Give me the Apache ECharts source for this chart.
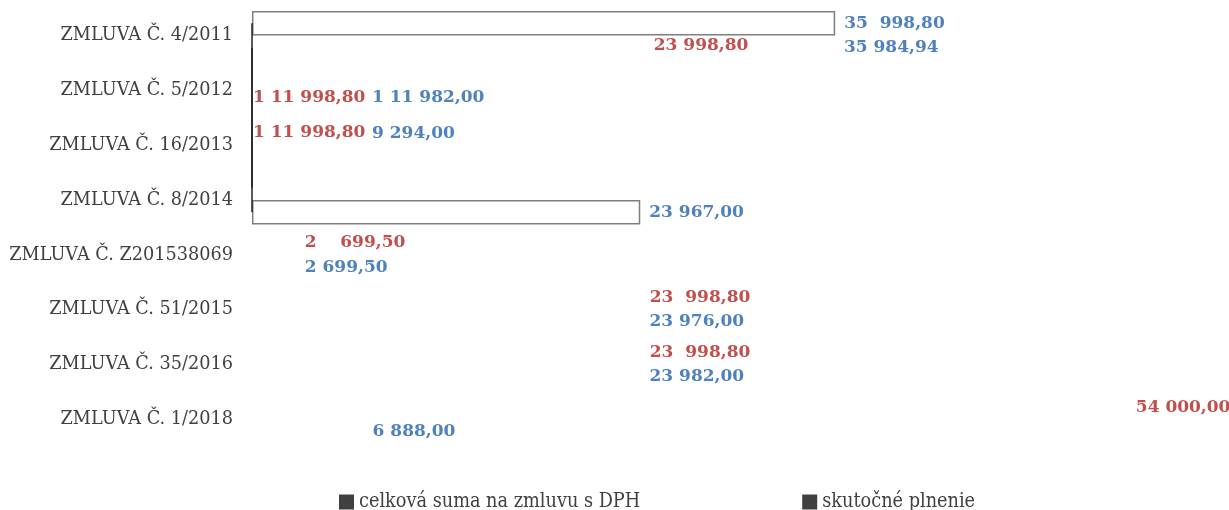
<!DOCTYPE html>
<html>
<head>
<meta charset="utf-8">
<script src="https://cdn.jsdelivr.net/npm/echarts@6/dist/echarts.min.js"></script>
<style>
html,body{margin:0;padding:0;background:#fff;}
#c{width:1229px;height:510px;}
</style>
</head>
<body>
<div id="c"></div>
<script>
const categories = ['ZMLUVA Č. 4/2011','ZMLUVA Č. 5/2012','ZMLUVA Č. 16/2013','ZMLUVA Č. 8/2014','ZMLUVA Č. Z201538069','ZMLUVA Č. 51/2015','ZMLUVA Č. 35/2016','ZMLUVA Č. 1/2018'];
const seriesNames = ['celková suma na zmluvu s DPH', 'skutočné plnenie'];
const totalValues = [35998.80, 111998.80, 111998.80, 23998.80, 2699.50, 23998.80, 23998.80, 54000.00];
const actualValues = [35984.94, 111982.00, 9294.00, 23967.00, 2699.50, 23976.00, 23982.00, 6888.00];
const totalLabels = ['35  998,80','1 11 998,80','1 11 998,80','23 998,80','2    699,50','23  998,80','23  998,80','54 000,00'];
const actualLabels = ['35 984,94','1 11 982,00','9 294,00','23 967,00','2 699,50','23 976,00','23 982,00','6 888,00'];

const RED = '#C0504D', BLUE = '#4F81BD', TXT = '#404040', FRAME = '#7f7f7f';
const SERIF = '"DejaVu Serif", serif';
const SERIF_COND = '"DejaVu Serif Condensed", "DejaVu Serif", serif';

const labelBase = { show: true, position: 'right', distance: 9, fontFamily: SERIF, fontWeight: 'bold', fontSize: 17 };

// per-item label / border styling (appearance only)
const totalStyle = {
  0: { label: { color: BLUE }, itemStyle: { borderColor: FRAME, borderWidth: 1.5 } },
  1: { label: { position: 'insideLeft', distance: 1, offset: [0, 20] } },
  2: { label: { position: 'insideLeft', distance: 1, offset: [0, 0] } },
  3: { label: { offset: [4, -142] } }
};
const actualStyle = {
  1: { label: { position: 'insideLeft', distance: 120, offset: [0, -5] } },
  2: { label: { position: 'insideLeft', distance: 120, offset: [0, -24] } },
  3: { itemStyle: { borderColor: FRAME, borderWidth: 1.5 } }
};

function build(values, labels, style, color) {
  return values.map((v, i) => {
    const s = style[i] || {};
    const item = { value: v, label: Object.assign({}, labelBase, { color: color, formatter: labels[i] }, s.label || {}) };
    if (s.itemStyle) item.itemStyle = s.itemStyle;
    return item;
  });
}

const frameLine = {
  silent: true, symbol: 'none', label: { show: false },
  lineStyle: { color: '#222', width: 1.5, type: 'solid' },
  data: [[{ coord: [0, categories[0]] }, { coord: [0, categories[3]] }]]
};

const chart = echarts.init(document.getElementById('c'), null, { renderer: 'canvas' });
chart.setOption({
  animation: false,
  backgroundColor: '#fff',
  grid: { left: 252, right: 5, top: 8, bottom: 63, containLabel: false },
  xAxis: { type: 'value', min: 0, max: 60000, show: false },
  yAxis: {
    type: 'category', data: categories, inverse: true,
    axisLine: { show: false }, axisTick: { show: false }, splitLine: { show: false },
    axisLabel: { color: TXT, fontFamily: SERIF, fontSize: 17.7, margin: 19, padding: [0, 0, 5, 0] }
  },
  legend: {
    left: 334, top: 487, icon: 'rect', itemWidth: 15, itemHeight: 15, itemGap: 162,
    textStyle: { color: TXT, fontFamily: SERIF_COND, fontSize: 19.7 },
    data: [
      { name: seriesNames[0], itemStyle: { color: TXT, borderWidth: 0 } },
      { name: seriesNames[1], itemStyle: { color: TXT, borderWidth: 0 } }
    ]
  },
  series: [
    {
      name: seriesNames[0], type: 'bar', barWidth: 24.5, barGap: '0%',
      itemStyle: { color: 'rgba(255,255,255,0)' },
      data: build(totalValues, totalLabels, totalStyle, RED),
      markLine: frameLine
    },
    {
      name: seriesNames[1], type: 'bar', barWidth: 24.5, barGap: '0%',
      itemStyle: { color: 'rgba(255,255,255,0)' },
      data: build(actualValues, actualLabels, actualStyle, BLUE),
      markLine: frameLine
    }
  ]
});
</script>
</body>
</html>
